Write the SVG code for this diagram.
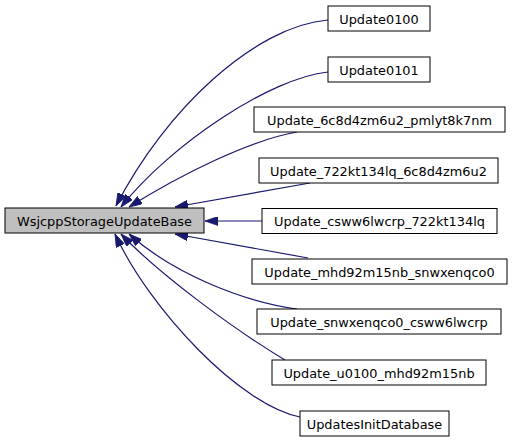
<svg xmlns="http://www.w3.org/2000/svg" width="512" height="443" viewBox="0 0 512 443">
<style>
.n rect{fill:#fff;stroke:#000;stroke-width:1}
.n.main rect{fill:#bfbfbf}
.n text{font-family:"DejaVu Sans",sans-serif;font-size:12.9px;fill:#000;text-anchor:middle}
.e path{fill:none;stroke:#191970;stroke-width:1.2;marker-end:url(#ah)}
</style>
<defs>
<marker id="ah" markerUnits="userSpaceOnUse" markerWidth="13" markerHeight="9" viewBox="0 0 13 9" refX="13" refY="4.5" orient="auto">
<path d="M0,0 L13,4.5 L0,9 z" fill="#191970" stroke="#191970" stroke-width="0.8"/>
</marker>
</defs>
<g id="edges" class="e">
<path d="M328,20 C255,26 165,110 116,206"/>
<path d="M328,72 C270,78 170,145 121,207"/>
<path d="M297,132 C250,140 180,175 129,207"/>
<path d="M310,183 L175,207"/>
<path d="M262,221 L205,221"/>
<path d="M308,258 L175,234"/>
<path d="M297,309 C245,302 175,275 129,234"/>
<path d="M285,360 C235,330 160,275 121,234"/>
<path d="M300,417 C240,405 150,310 115,234"/>
</g>
<g id="WsjcppStorageUpdateBase" class="n main"><rect x="5" y="208" width="199" height="25"/><text x="104.5" y="225.5">WsjcppStorageUpdateBase</text></g>
<g id="Update0100" class="n"><rect x="328" y="6" width="102" height="25"/><text x="379" y="23.5">Update0100</text></g>
<g id="Update0101" class="n"><rect x="328" y="57" width="102" height="25"/><text x="379" y="74.5">Update0101</text></g>
<g id="Update_6c8d4zm6u2_pmlyt8k7nm" class="n"><rect x="254" y="107" width="251" height="25"/><text x="379.5" y="124.5">Update_6c8d4zm6u2_pmlyt8k7nm</text></g>
<g id="Update_722kt134lq_6c8d4zm6u2" class="n"><rect x="259" y="158" width="239" height="25"/><text x="378.5" y="175.5">Update_722kt134lq_6c8d4zm6u2</text></g>
<g id="Update_csww6lwcrp_722kt134lq" class="n"><rect x="262" y="208.5" width="235" height="25"/><text x="379.5" y="226">Update_csww6lwcrp_722kt134lq</text></g>
<g id="Update_mhd92m15nb_snwxenqco0" class="n"><rect x="252" y="259" width="255" height="25"/><text x="379.5" y="276.5">Update_mhd92m15nb_snwxenqco0</text></g>
<g id="Update_snwxenqco0_csww6lwcrp" class="n"><rect x="257" y="309" width="244" height="25"/><text x="379" y="326.5">Update_snwxenqco0_csww6lwcrp</text></g>
<g id="Update_u0100_mhd92m15nb" class="n"><rect x="272" y="360" width="214" height="25"/><text x="379" y="377.5">Update_u0100_mhd92m15nb</text></g>
<g id="UpdatesInitDatabase" class="n"><rect x="300" y="411" width="149" height="25"/><text x="374.5" y="428.5">UpdatesInitDatabase</text></g>
</svg>
